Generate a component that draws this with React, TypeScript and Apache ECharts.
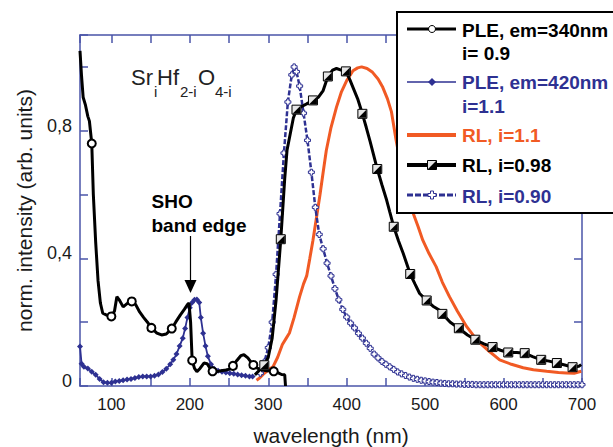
import React, { useEffect, useRef } from 'react';
import * as echarts from 'echarts';

// ---------- data (wavelength nm, normalized intensity) ----------
const ple340: number[][] = [
  [60, 1.05], [62, 0.97], [64, 0.905], [67, 0.88], [70, 0.845], [72, 0.83], [75, 0.76], [77, 0.6],
  [80, 0.45], [83, 0.33], [86, 0.26], [89, 0.228], [94, 0.222], [100, 0.218], [104, 0.235], [107, 0.28],
  [110, 0.27], [115, 0.248], [120, 0.258], [126, 0.265], [131, 0.255], [136, 0.232], [141, 0.215],
  [146, 0.2], [151, 0.182], [158, 0.166], [164, 0.16], [170, 0.163], [177, 0.18], [182, 0.2],
  [188, 0.223], [193, 0.24], [197, 0.255], [199, 0.26], [201, 0.2], [203, 0.08], [206, 0.055],
  [209, 0.045], [213, 0.055], [218, 0.072], [222, 0.07], [226, 0.055], [229, 0.046], [234, 0.045],
  [240, 0.048], [246, 0.05], [251, 0.053], [255, 0.063], [260, 0.08], [265, 0.095], [269, 0.098],
  [274, 0.088], [278, 0.075], [281, 0.066], [286, 0.056], [292, 0.05], [298, 0.048], [303, 0.047],
  [307, 0.046], [312, 0.042], [317, 0.036], [321, 0.035], [322, 0],
];
const ple340Markers = [75, 100, 126, 151, 177, 203, 229, 255, 281, 307];

const ple420: number[][] = [
  [60, 0.124], [62, 0.07], [65, 0.06], [70, 0.055], [75, 0.045], [80, 0.035], [85, 0.022], [90, 0.012],
  [95, 0.01], [100, 0.01], [105, 0.014], [110, 0.016], [115, 0.018], [120, 0.02], [125, 0.022],
  [130, 0.025], [135, 0.028], [140, 0.03], [145, 0.03], [150, 0.03], [155, 0.032], [160, 0.036],
  [165, 0.044], [170, 0.054], [175, 0.068], [179, 0.082], [183, 0.1], [187, 0.125], [191, 0.15],
  [194, 0.18], [197, 0.215], [200, 0.245], [203, 0.262], [206, 0.27], [209, 0.271], [212, 0.262],
  [214, 0.215], [217, 0.165], [220, 0.125], [223, 0.093], [227, 0.068], [231, 0.054], [236, 0.048],
  [241, 0.045], [246, 0.042], [251, 0.04], [256, 0.038], [261, 0.036], [266, 0.034], [271, 0.032],
  [276, 0.03], [280, 0.03],
];

const rl110: number[][] = [
  [285, 0.018], [289, 0.025], [295, 0.04], [300, 0.05], [306, 0.06], [312, 0.09], [318, 0.13],
  [323, 0.15], [327, 0.166], [333, 0.215], [340, 0.28], [345, 0.32], [349, 0.345], [353, 0.4],
  [357, 0.457], [361, 0.52], [366, 0.6], [370, 0.67], [374, 0.738], [380, 0.81], [387, 0.874],
  [393, 0.92], [400, 0.957], [408, 0.988], [414, 0.997], [419, 1.0], [426, 0.995], [433, 0.983],
  [440, 0.962], [446, 0.936], [452, 0.9], [457, 0.86], [463, 0.77], [470, 0.68], [477, 0.6],
  [485, 0.54], [491, 0.5], [497, 0.457], [505, 0.415], [514, 0.374], [522, 0.325], [531, 0.28],
  [541, 0.235], [553, 0.186], [561, 0.16], [570, 0.134], [582, 0.108], [595, 0.082], [610, 0.068],
  [625, 0.057], [638, 0.051], [655, 0.046], [670, 0.042], [680, 0.041], [690, 0.04], [699, 0.046],
];

const rl098: number[][] = [
  [283, 0.035], [289, 0.05], [295, 0.065], [300, 0.09], [305, 0.15], [310, 0.27], [316, 0.46],
  [321, 0.65], [324, 0.74], [328, 0.79], [332, 0.84], [336, 0.866], [342, 0.875], [349, 0.884],
  [357, 0.895], [364, 0.905], [370, 0.926], [376, 0.97], [382, 0.99], [387, 0.995], [393, 0.99],
  [399, 0.986], [404, 0.96], [408, 0.936], [414, 0.9], [420, 0.853], [425, 0.81], [430, 0.765],
  [439, 0.68], [445, 0.63], [451, 0.582], [455, 0.545], [460, 0.499], [466, 0.455], [472, 0.416],
  [477, 0.38], [481, 0.351], [487, 0.32], [493, 0.29], [502, 0.268], [510, 0.25], [518, 0.238],
  [522, 0.226], [532, 0.2], [543, 0.181], [554, 0.16], [564, 0.145], [575, 0.132], [586, 0.122],
  [596, 0.112], [606, 0.105], [617, 0.105], [627, 0.103], [637, 0.092], [648, 0.082], [658, 0.078],
  [668, 0.072], [678, 0.066], [688, 0.059], [696, 0.062], [699, 0.067],
];
const rl098Markers = [295, 316, 336, 357, 376, 399, 420, 439, 460, 481, 502, 522, 543, 564, 586, 606, 627, 648, 668, 688];

const rl090: number[][] = [
  [290, 0.04], [295, 0.075], [300, 0.12], [305, 0.2], [310, 0.35], [315, 0.54], [320, 0.73],
  [325, 0.89], [330, 0.975], [333, 1.0], [336, 0.985], [340, 0.94], [345, 0.855], [350, 0.77],
  [355, 0.67], [360, 0.56], [365, 0.475], [370, 0.43], [375, 0.385], [380, 0.345], [385, 0.305],
  [390, 0.27], [395, 0.24], [400, 0.216], [405, 0.197], [410, 0.182], [415, 0.165], [420, 0.15],
  [425, 0.134], [430, 0.118], [435, 0.1], [440, 0.088], [445, 0.077], [450, 0.068], [455, 0.06],
  [460, 0.052], [465, 0.044], [470, 0.038], [475, 0.033], [480, 0.028], [485, 0.024], [490, 0.021],
  [495, 0.018], [500, 0.016], [505, 0.014], [510, 0.012], [515, 0.011], [520, 0.009], [525, 0.008],
  [530, 0.007], [535, 0.007], [540, 0.006], [545, 0.006], [550, 0.005], [555, 0.005], [560, 0.005],
  [565, 0.004], [570, 0.004], [575, 0.004], [580, 0.004], [585, 0.004], [590, 0.004], [595, 0.004],
  [600, 0.004], [605, 0.004], [610, 0.004], [615, 0.004], [620, 0.004], [625, 0.004], [630, 0.004],
  [635, 0.004], [640, 0.004], [645, 0.004], [650, 0.004], [655, 0.004], [660, 0.004], [665, 0.004],
  [670, 0.004], [675, 0.004], [680, 0.004], [685, 0.004], [690, 0.004], [695, 0.004], [700, 0.004],
];

const xLabels = [100, 200, 300, 400, 500, 600, 700];
const yLabels: Record<number, string> = { 0: '0', 4: '0,4', 8: '0,8' };

const legendLabels = [
  ['PLE, em=340nm', 'i= 0.9'],
  ['PLE, em=420nm', 'i=1.1'],
  ['RL, i=1.1'],
  ['RL, i=0.98'],
  ['RL, i=0.90'],
];

// ---------- styles ----------
const FONT = "'Liberation Sans', Arial, Helvetica, sans-serif";
const BLUE = '#2e3192';
const ORANGE = '#f15a24';
const AXIS = '#4a54a8';
const CROSS = 'path://M3,0 H7 V3 H10 V7 H7 V10 H3 V7 H0 V3 H3 Z';
const TRI = 'path://M10,0 L10,10 L0,10 Z';

function buildOption() {
  const xBase: any = {
    type: 'value', min: 60, max: 700, splitNumber: 12,
    axisLine: { show: true, onZero: false, lineStyle: { color: AXIS, width: 1.5 } },
    axisTick: { show: true, inside: true, length: 8, lineStyle: { color: AXIS, width: 1.5 } },
    splitLine: { show: false },
  };
  const yBase: any = {
    type: 'value', min: 0, max: 1.1, interval: 0.2,
    axisLine: { show: true, onZero: false, lineStyle: { color: AXIS, width: 1.5 } },
    axisTick: { show: true, inside: true, length: 8, lineStyle: { color: AXIS, width: 1.5 } },
    splitLine: { show: false },
  };

  const legendY = [[30, 53], [82, 106], [135], [165], [196]];
  const legendColors = ['#000', BLUE, ORANGE, '#000', BLUE];
  const g: any[] = [
    { type: 'rect', shape: { x: 397, y: 12, width: 240, height: 201 }, style: { fill: '#fff', stroke: '#000', lineWidth: 2 }, z: 100 },
    { type: 'line', shape: { x1: 407, y1: 29, x2: 456, y2: 29 }, style: { stroke: '#000', lineWidth: 3 }, z: 101 },
    { type: 'circle', shape: { cx: 432, cy: 29, r: 3.5 }, style: { fill: '#fff', stroke: '#000', lineWidth: 1 }, z: 102 },
    { type: 'line', shape: { x1: 407, y1: 82, x2: 456, y2: 82 }, style: { stroke: BLUE, lineWidth: 1.5 }, z: 101 },
    { type: 'polygon', shape: { points: [[432, 78], [436, 82], [432, 86], [428, 82]] }, style: { fill: BLUE }, z: 102 },
    { type: 'line', shape: { x1: 407, y1: 135, x2: 456, y2: 135 }, style: { stroke: ORANGE, lineWidth: 4 }, z: 101 },
    { type: 'line', shape: { x1: 407, y1: 165, x2: 456, y2: 165 }, style: { stroke: '#000', lineWidth: 4 }, z: 101 },
    { type: 'rect', shape: { x: 427.5, y: 160.5, width: 9, height: 9 }, style: { fill: '#e6e6e6', stroke: '#000', lineWidth: 1 }, z: 102 },
    { type: 'polygon', shape: { points: [[436.5, 160.5], [436.5, 169.5], [427.5, 169.5]] }, style: { fill: '#000' }, z: 103 },
    { type: 'line', shape: { x1: 407, y1: 195, x2: 456, y2: 195 }, style: { stroke: BLUE, lineWidth: 3, lineDash: [6, 2] }, z: 101 },
    {
      type: 'polygon',
      shape: { points: [[430.5, 191], [433.5, 191], [433.5, 193.5], [436, 193.5], [436, 196.5], [433.5, 196.5], [433.5, 199], [430.5, 199], [430.5, 196.5], [428, 196.5], [428, 193.5], [430.5, 193.5]] },
      style: { fill: '#fff', stroke: BLUE, lineWidth: 1 }, z: 102,
    },
  ];
  legendLabels.forEach((lines, i) => {
    lines.forEach((t, j) => {
      g.push({
        type: 'text', x: 462, y: legendY[i][j], z: 104,
        style: { text: t, fill: legendColors[i], font: `bold 19px ${FONT}`, verticalAlign: 'middle', align: 'left' },
      });
    });
  });

  // formula Sr_i Hf_2-i O_4-i
  const big = `22px ${FONT}`;
  const small = `15px ${FONT}`;
  const formula: [string, number, number, string][] = [
    ['Sr', 131, 77, big], ['i', 154, 91, small], ['Hf', 157, 77, big], ['2-i', 180, 91, small],
    ['O', 198, 77, big], ['4-i', 215, 91, small],
  ];
  formula.forEach(([t, x, y, f]) => {
    g.push({ type: 'text', x, y, z: 50, style: { text: t, fill: '#222', font: f, verticalAlign: 'middle', align: 'left' } });
  });

  // SHO band edge annotation
  g.push({ type: 'text', x: 151.5, y: 201, z: 50, style: { text: 'SHO', fill: '#000', font: `bold 19px ${FONT}`, verticalAlign: 'middle' } });
  g.push({ type: 'text', x: 151.5, y: 225, z: 50, style: { text: 'band edge', fill: '#000', font: `bold 19px ${FONT}`, verticalAlign: 'middle' } });
  g.push({ type: 'line', shape: { x1: 190.5, y1: 236, x2: 190.5, y2: 282 }, style: { stroke: '#000', lineWidth: 1.2 }, z: 50 });
  g.push({ type: 'polygon', shape: { points: [[184.5, 280], [196.5, 280], [190.5, 293]] }, style: { fill: '#000' }, z: 50 });

  const p340Set = new Set(ple340Markers);
  const r098Set = new Set(rl098Markers);
  const r098Pts = rl098.filter((p) => r098Set.has(p[0]));

  return {
    animation: false,
    backgroundColor: '#fff',
    grid: { left: 80, right: 31, top: 35, bottom: 61, containLabel: false, outerBoundsMode: 'none' },
    xAxis: [
      {
        ...xBase, position: 'bottom',
        axisLabel: {
          show: true, margin: 10, color: '#1a1a1a', fontSize: 17, fontFamily: FONT,
          formatter: (v: number) => (xLabels.includes(Math.round(v)) && Math.abs(v - Math.round(v)) < 1e-6 ? String(Math.round(v)) : ''),
        },
        name: 'wavelength (nm)', nameLocation: 'middle', nameGap: 39,
        nameTextStyle: { fontSize: 21, color: '#1a1a1a', fontFamily: FONT },
      },
      { ...xBase, position: 'top', axisLabel: { show: false } },
    ],
    yAxis: [
      {
        ...yBase, position: 'left',
        axisLabel: {
          show: true, margin: 8, color: '#1a1a1a', fontSize: 18, fontFamily: FONT,
          verticalAlign: 'bottom', lineHeight: 10,
          formatter: (v: number) => {
            const k = Math.round(v * 10);
            return Math.abs(v * 10 - k) < 1e-6 && yLabels[k] !== undefined ? yLabels[k] : '';
          },
        },
        name: 'norm. intensity (arb. units)', nameLocation: 'middle', nameGap: 45,
        nameTextStyle: { fontSize: 21, color: '#1a1a1a', fontFamily: FONT },
      },
      { ...yBase, position: 'right', axisLabel: { show: false } },
    ],
    series: [
      {
        type: 'line', data: rl110, symbol: 'none', z: 2,
        lineStyle: { color: ORANGE, width: 3 },
      },
      {
        type: 'line', data: rl090, symbol: CROSS, symbolSize: 6, z: 3,
        lineStyle: { color: BLUE, width: 2.5, type: [5, 2] },
        itemStyle: { color: '#fff', borderColor: BLUE, borderWidth: 1 },
      },
      {
        type: 'line', data: rl098, symbol: 'none', z: 4,
        lineStyle: { color: '#000', width: 3 },
      },
      {
        type: 'scatter', data: r098Pts, symbol: 'rect', symbolSize: 9, z: 5,
        itemStyle: { color: '#e6e6e6', borderColor: '#000', borderWidth: 1, opacity: 1 },
      },
      {
        type: 'scatter', data: r098Pts, symbol: TRI, symbolSize: 8, z: 6,
        itemStyle: { color: '#000', opacity: 1 },
      },
      {
        type: 'line', data: ple420, symbol: 'diamond', symbolSize: 6, z: 4,
        lineStyle: { color: BLUE, width: 1.8 },
        itemStyle: { color: BLUE },
      },
      {
        type: 'line', data: ple340, z: 5,
        symbol: (val: number[]) => (p340Set.has(val[0]) ? 'emptyCircle' : 'none'),
        symbolSize: 8,
        lineStyle: { color: '#000', width: 3 },
        itemStyle: { color: '#000', borderWidth: 1 },
      },
    ],
    graphic: g,
  };
}

const App = () => {
  const ref = useRef<HTMLDivElement>(null);
  useEffect(() => {
    if (!ref.current) return;
    const chart = echarts.init(ref.current, null, { renderer: 'svg' });
    chart.setOption(buildOption() as any);
    return () => chart.dispose();
  }, []);
  return <div ref={ref} style={{ position: 'absolute', left: 0, top: 0, width: 613, height: 447 }} />;
};

export default App;
